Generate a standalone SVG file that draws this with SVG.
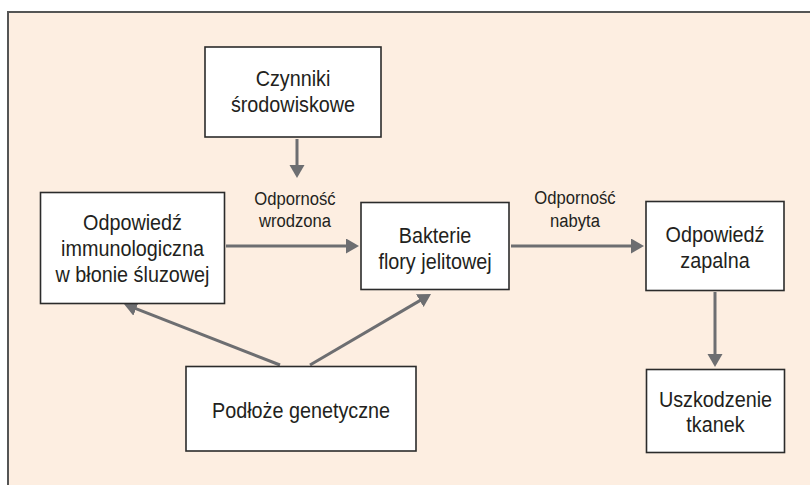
<svg xmlns="http://www.w3.org/2000/svg" width="810" height="485" viewBox="0 0 810 485">
<defs>
<style>
.box{fill:#ffffff;stroke:#2b2b2b;stroke-width:1.6}
.t{font-family:"Liberation Sans",Arial,sans-serif;font-size:22px;fill:#231f20;text-anchor:middle}
.l{font-family:"Liberation Sans",Arial,sans-serif;font-size:18.5px;fill:#231f20;text-anchor:middle}
.c{stroke:#6d6e71;stroke-width:3;fill:none;marker-end:url(#ah)}
</style>
<marker id="ah" markerUnits="userSpaceOnUse" markerWidth="14" markerHeight="16" refX="3" refY="7.5" orient="auto" viewBox="0 0 14 16">
<path d="M0,0 L13,7.5 L0,15 z" fill="#6d6e71"/>
</marker>
</defs>
<rect x="0" y="0" width="810" height="485" fill="#ffffff"/>
<rect x="8" y="12" width="810" height="480" fill="#fdeee1" stroke="#555555" stroke-width="2"/>
<g id="connectors">
<line class="c" x1="297" y1="139" x2="297" y2="168"/>
<line class="c" x1="226" y1="246" x2="349" y2="246"/>
<line class="c" x1="511" y1="246" x2="634" y2="246"/>
<line class="c" x1="715" y1="292" x2="715" y2="357"/>
<line class="c" x1="280" y1="365" x2="133.3" y2="307.6"/>
<line class="c" x1="310" y1="365" x2="422.4" y2="299.1"/>
</g>
<g id="label-wrodzona">
<text class="l" transform="translate(295,205) scale(0.9,1)">Odporność</text>
<text class="l" transform="translate(295,227) scale(0.9,1)">wrodzona</text>
</g>
<g id="label-nabyta">
<text class="l" transform="translate(575,204) scale(0.9,1)">Odporność</text>
<text class="l" transform="translate(575,227) scale(0.9,1)">nabyta</text>
</g>
<g id="czynniki">
<rect class="box" x="205" y="47" width="176" height="90"/>
<text class="t" transform="translate(293,86) scale(0.9,1)">Czynniki</text>
<text class="t" transform="translate(293,112) scale(0.9,1)">środowiskowe</text>
</g>
<g id="immuno">
<rect class="box" x="40.5" y="192.5" width="184" height="111"/>
<text class="t" transform="translate(132.5,230) scale(0.9,1)">Odpowiedź</text>
<text class="t" transform="translate(132.5,256) scale(0.9,1)">immunologiczna</text>
<text class="t" transform="translate(132.5,282) scale(0.9,1)">w błonie śluzowej</text>
</g>
<g id="bakterie">
<rect class="box" x="361" y="202.5" width="148" height="87"/>
<text class="t" transform="translate(435,243) scale(0.9,1)">Bakterie</text>
<text class="t" transform="translate(435,269) scale(0.9,1)">flory jelitowej</text>
</g>
<g id="zapalna">
<rect class="box" x="646" y="201.5" width="138" height="89"/>
<text class="t" transform="translate(715,242) scale(0.9,1)">Odpowiedź</text>
<text class="t" transform="translate(715,268) scale(0.9,1)">zapalna</text>
</g>
<g id="uszkodzenie">
<rect class="box" x="646.5" y="369.5" width="138" height="83"/>
<text class="t" transform="translate(715.5,407) scale(0.9,1)">Uszkodzenie</text>
<text class="t" transform="translate(715.5,432) scale(0.9,1)">tkanek</text>
</g>
<g id="podloze">
<rect class="box" x="186" y="366.5" width="230" height="84.5"/>
<text class="t" transform="translate(301,418) scale(0.9,1)">Podłoże genetyczne</text>
</g>
</svg>
